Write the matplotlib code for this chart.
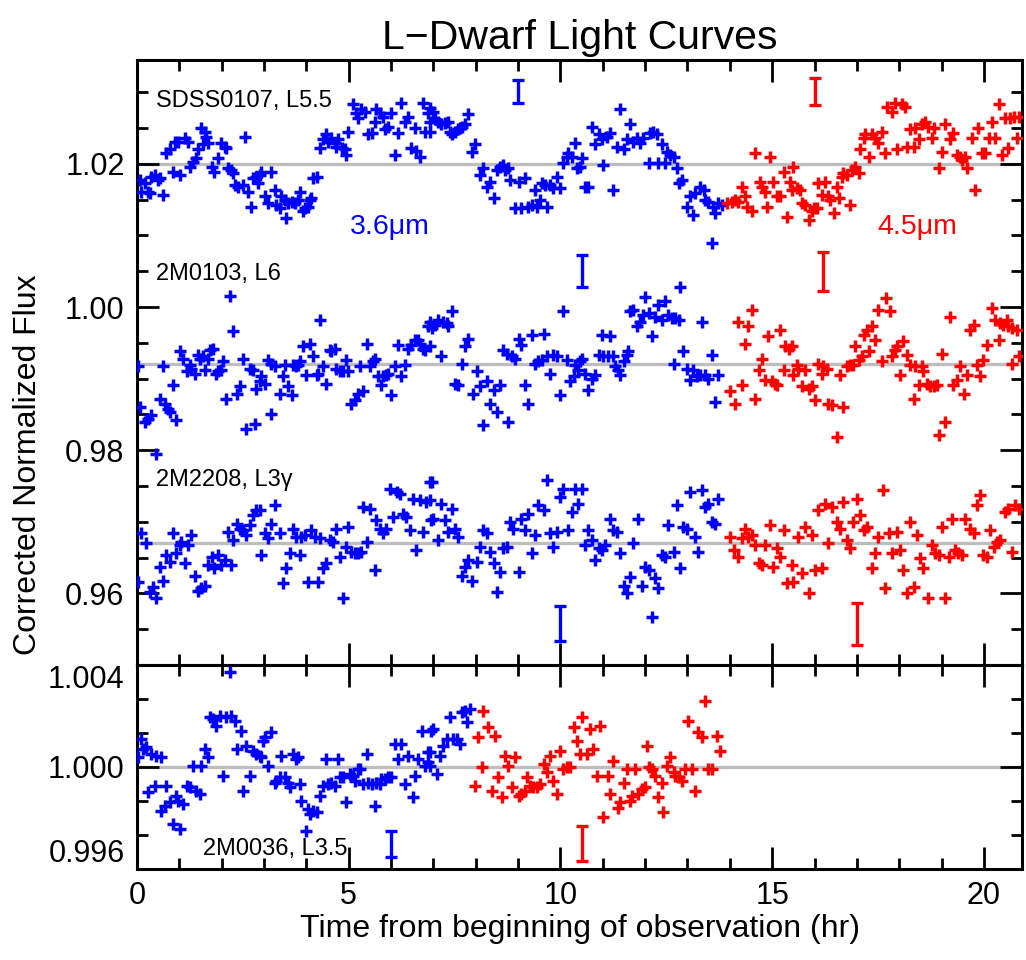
import matplotlib
matplotlib.use("Agg")
import matplotlib.pyplot as plt
from matplotlib.ticker import MultipleLocator, AutoMinorLocator

plt.rcParams["font.family"] = ["Liberation Sans", "DejaVu Sans"]

BLUE = "#0000FF"
RED = "#FF0000"
GREY = "#BEBEBE"

# ---- SDSS0107, L5.5 (baseline 1.020) ----
s1_b_t = [0.06, 0.18, 0.26, 0.34, 0.42, 0.50, 0.54, 0.10, 0.30, 0.61, 0.69, 0.77, 0.89, 0.97, 1.13, 1.20, 0.85, 1.01,
          1.24, 1.32, 1.40, 1.44, 1.52, 1.60, 1.64, 1.68, 1.56, 1.76, 1.83, 1.91, 1.99, 2.07, 2.11, 2.15, 2.23, 2.27,
          2.31, 2.39, 2.50, 2.54, 2.62, 2.70, 2.74, 2.82, 2.90, 2.94, 2.86, 3.02, 3.09, 3.17, 3.25, 3.29, 3.37, 3.41,
          3.49, 3.53, 3.57, 3.65, 3.72, 3.80, 3.84, 3.92, 3.96, 4.04, 4.08, 4.12, 4.16, 4.24, 4.31, 4.39, 4.47, 4.51,
          4.59, 4.67, 4.71, 4.75, 4.83, 4.91, 4.94, 4.98, 5.10, 5.18, 5.22, 5.30, 5.38, 5.46, 5.54, 5.61, 5.65, 5.73,
          5.81, 5.85, 5.93, 6.01, 6.09, 6.17, 6.24, 6.32, 6.40, 6.48, 6.56, 6.60, 6.68, 6.76, 6.80, 6.87, 6.91,
          6.92, 7.00, 7.04, 7.12, 7.19, 7.27, 7.35, 7.39, 7.43, 7.51, 7.59, 7.63, 7.67, 7.75, 7.82, 6.92, 7.90, 7.98,
          8.10, 8.18, 8.26, 8.34, 8.42, 8.49, 8.57, 8.65, 8.69, 8.77, 8.81, 8.93, 9.01, 9.08, 9.16, 9.24, 9.32, 9.40,
          9.44, 9.52, 9.56, 9.64, 9.68, 9.75, 9.83, 9.91, 9.99, 10.07, 10.15, 10.19, 10.27, 10.34, 10.38, 10.46,
          10.50, 10.58, 10.66, 10.74, 10.82, 10.90, 10.97, 11.01, 11.09, 11.17, 11.25, 11.33, 11.41, 11.49, 11.56,
          11.64, 11.72, 11.80, 11.88, 11.96, 12.08, 12.12, 12.19, 12.27, 12.31, 12.39, 12.47, 12.51, 12.59, 12.67,
          12.75, 12.79, 12.86, 12.98, 13.06, 13.14, 13.18, 13.30, 13.38, 13.42, 13.49, 13.57, 13.61, 13.65, 13.73,
          13.81]
s1_b_f = [1.0178, 1.0173, 1.0161, 1.0182, 1.0185, 1.0178, 1.0180, 1.0161, 1.0159, 1.0157, 1.0215, 1.0220, 1.0231,
          1.0231, 1.0236, 1.0231, 1.0189, 1.0185, 1.0196, 1.0203, 1.0208, 1.0220, 1.0250, 1.0245, 1.0238, 1.0229,
          1.0227, 1.0196, 1.0189, 1.0208, 1.0229, 1.0224, 1.0222, 1.0194, 1.0192, 1.0187, 1.0171, 1.0168, 1.0171,
          1.0238, 1.0161, 1.0140, 1.0180, 1.0182, 1.0185, 1.0189, 1.0173, 1.0155, 1.0145, 1.0189, 1.0164, 1.0143,
          1.0138, 1.0155, 1.0150, 1.0124, 1.0145, 1.0147, 1.0145, 1.0150, 1.0161, 1.0134, 1.0138, 1.0140, 1.0150,
          1.0152, 1.0180, 1.0182, 1.0222, 1.0234, 1.0241, 1.0231, 1.0236, 1.0229, 1.0224, 1.0234, 1.0222, 1.0220,
          1.0213, 1.0245, 1.0283, 1.0271, 1.0264, 1.0276, 1.0273, 1.0241, 1.0243, 1.0259, 1.0276, 1.0271, 1.0266,
          1.0248, 1.0252, 1.0271, 1.0213, 1.0243, 1.0285, 1.0259, 1.0266, 1.0222, 1.0250, 1.0218, 1.0210, 1.0285,
          1.0245, 1.0271, 1.0259,
          1.0278, 1.0273, 1.0262, 1.0259, 1.0255, 1.0257, 1.0259, 1.0245, 1.0241, 1.0245, 1.0248, 1.0250, 1.0252,
          1.0255, 1.0269, 1.0245, 1.0217, 1.0227, 1.0185, 1.0194, 1.0168, 1.0175, 1.0152, 1.0192, 1.0196, 1.0199,
          1.0192, 1.0194, 1.0178, 1.0138, 1.0175, 1.0138, 1.0180, 1.0140, 1.0143, 1.0164, 1.0140, 1.0150, 1.0173,
          1.0171, 1.0140, 1.0171, 1.0166, 1.0182, 1.0166, 1.0201, 1.0210, 1.0215, 1.0210, 1.0229, 1.0194, 1.0196,
          1.0208, 1.0168, 1.0168, 1.0252, 1.0227, 1.0241, 1.0234, 1.0199, 1.0238, 1.0243, 1.0164, 1.0224, 1.0276,
          1.0220, 1.0234, 1.0255, 1.0231, 1.0236, 1.0229, 1.0236, 1.0201, 1.0243, 1.0245, 1.0241, 1.0201, 1.0227,
          1.0201, 1.0217, 1.0213, 1.0210, 1.0194, 1.0173, 1.0178, 1.0140, 1.0155, 1.0129, 1.0159, 1.0168, 1.0164,
          1.0150, 1.0147, 1.0089, 1.0140, 1.0131, 1.0145, 1.0143]
s1_r_t = [13.93, 14.05, 14.13, 14.20, 14.28, 14.36, 14.40, 14.52, 14.60, 14.72, 14.76, 14.83, 14.87, 14.95, 15.03,
          15.11, 15.19, 15.27, 15.35, 15.42, 15.46, 15.50, 15.58, 15.66, 15.70, 15.78, 15.86, 15.94, 15.98, 16.05,
          16.09, 16.17, 16.25, 16.33, 16.37, 16.45, 16.53, 16.57, 16.65, 16.68, 16.76, 16.84, 16.88, 16.96, 17.04,
          17.08, 17.16, 17.20, 17.28, 17.35, 17.43, 17.51, 17.59, 17.67, 17.71, 17.83, 17.91, 17.94, 18.06, 18.14,
          18.18, 18.26, 18.34, 18.38, 18.46, 18.54, 18.61, 18.69, 18.77, 18.81, 18.93, 19.01, 19.09, 19.20, 19.28,
          19.36, 19.44, 19.48, 19.56, 19.60, 19.72, 19.80, 19.87, 19.95, 20.03, 20.11, 20.19, 20.27, 20.35, 20.43,
          20.50, 20.58, 20.62, 20.70, 20.78, 20.82]
s1_r_f = [1.0145, 1.0147, 1.0150, 1.0147, 1.0168, 1.0155, 1.0140, 1.0134, 1.0215, 1.0175, 1.0168, 1.0161, 1.0140,
          1.0210, 1.0175, 1.0155, 1.0155, 1.0189, 1.0126, 1.0175, 1.0164, 1.0196, 1.0166, 1.0164, 1.0145, 1.0143,
          1.0122, 1.0134, 1.0138, 1.0138, 1.0173, 1.0157, 1.0175, 1.0155, 1.0150, 1.0131, 1.0168, 1.0152, 1.0182,
          1.0187, 1.0185, 1.0143, 1.0192, 1.0196, 1.0187, 1.0220, 1.0236, 1.0241, 1.0210, 1.0241, 1.0236, 1.0229,
          1.0245, 1.0215, 1.0280, 1.0273, 1.0285, 1.0220, 1.0283, 1.0280, 1.0224, 1.0248, 1.0224, 1.0250, 1.0234,
          1.0255, 1.0259, 1.0252, 1.0236, 1.0250, 1.0194, 1.0217, 1.0255, 1.0234, 1.0243, 1.0213, 1.0210, 1.0206,
          1.0210, 1.0194, 1.0236, 1.0164, 1.0250, 1.0215, 1.0215, 1.0236, 1.0259, 1.0236, 1.0283, 1.0213, 1.0264,
          1.0222, 1.0264, 1.0266, 1.0236, 1.0266]

# ---- 2M0103, L6 (baseline 0.992) ----
s2_b_t = [0.02, 0.06, 0.18, 0.26, 0.34, 0.46, 0.54, 0.61, 0.65, 0.73, 0.77, 0.85, 0.93, 1.01, 1.09, 1.17, 1.24, 1.28,
          1.36, 1.44, 1.48, 1.56, 1.60, 1.68, 1.72, 1.80, 1.87, 1.91, 1.99, 2.03, 2.11, 2.19, 2.27, 2.35, 2.43, 2.50,
          2.58, 2.66, 2.74, 2.78, 2.82, 2.90, 2.94, 3.02, 3.09, 3.17, 3.17, 3.25, 3.37, 3.45, 3.49, 3.57, 3.65, 3.69,
          3.76, 3.80, 3.84, 3.92, 4.00, 4.08, 4.16, 4.24, 4.28, 4.31, 4.39, 4.47, 4.55, 4.59, 4.67, 4.71, 4.79, 4.87,
          4.94, 4.98, 5.06, 5.14, 5.22, 5.26, 5.34, 5.42, 5.50, 5.57, 5.61, 5.69, 5.77, 5.81, 5.89, 5.93, 6.01, 6.09,
          6.17, 6.24, 6.32, 6.40, 6.48, 6.56, 6.64, 6.68, 6.76, 6.80, 6.87, 6.91,
          6.92, 6.96, 7.04, 7.12, 7.23, 7.31, 7.35, 7.43, 7.19, 7.51, 7.59, 7.67, 7.75, 7.82, 7.94, 8.02, 8.10, 8.18,
          8.26, 8.34, 8.42, 8.49, 8.57, 8.65, 8.73, 8.77, 8.85, 8.93, 9.01, 9.08, 9.16, 9.24, 9.32, 9.40, 9.48, 9.56,
          9.60, 9.68, 9.75, 9.83, 9.91, 9.99, 10.07, 10.15, 10.23, 10.31, 10.34, 10.42, 10.46, 10.50, 10.58, 10.66,
          10.74, 10.82, 10.90, 10.97, 11.01, 11.13, 11.17, 11.25, 11.29, 11.37, 11.41, 11.49, 11.56, 11.60, 11.64,
          11.72, 11.80, 11.88, 11.96, 12.00, 12.08, 12.16, 12.23, 12.31, 12.39, 12.47, 12.55, 12.63, 12.71, 12.79,
          12.67, 12.83, 12.90, 12.98, 13.06, 13.14, 13.22, 13.30, 13.34, 13.42, 13.49, 13.57, 13.65, 13.73]
s2_b_f = [0.9918, 0.9861, 0.9840, 0.9844, 0.9849, 0.9795, 0.9872, 0.9918, 0.9865, 0.9858, 0.9854, 0.9891, 0.9842,
          0.9938, 0.9928, 0.9910, 0.9919, 0.9914, 0.9907, 0.9933, 0.9928, 0.9931, 0.9912, 0.9928, 0.9940, 0.9942,
          0.9907, 0.9910, 0.9912, 0.9924, 0.9872, 1.0015, 0.9966, 0.9879, 0.9889, 0.9928, 0.9830, 0.9914, 0.9912,
          0.9837, 0.9886, 0.9896, 0.9903, 0.9893, 0.9926, 0.9921, 0.9851, 0.9917, 0.9879, 0.9903, 0.9919, 0.9889,
          0.9877, 0.9919, 0.9917, 0.9919, 0.9924, 0.9945, 0.9905, 0.9949, 0.9931, 0.9905, 0.9907, 0.9982, 0.9917,
          0.9893, 0.9940, 0.9938, 0.9942, 0.9914, 0.9910, 0.9910, 0.9926, 0.9910, 0.9865, 0.9870, 0.9879, 0.9917,
          0.9882, 0.9949, 0.9917, 0.9924, 0.9928, 0.9903, 0.9891, 0.9903, 0.9905, 0.9907, 0.9877, 0.9917, 0.9947,
          0.9903, 0.9919, 0.9942, 0.9947, 0.9954, 0.9954, 0.9949, 0.9942, 0.9940, 0.9973, 0.9979,
          0.9945, 0.9970, 0.9975, 0.9982, 0.9979, 0.9977, 0.9973, 0.9994, 0.9931, 0.9893, 0.9891, 0.9921, 0.9945,
          0.9956, 0.9879, 0.9910, 0.9889, 0.9835, 0.9896, 0.9865, 0.9884, 0.9854, 0.9891, 0.9940, 0.9935, 0.9840,
          0.9931, 0.9928, 0.9956, 0.9947, 0.9891, 0.9865, 0.9961, 0.9921, 0.9924, 0.9926, 0.9963, 0.9931, 0.9907,
          0.9933, 0.9931, 0.9877, 0.9994, 0.9926, 0.9896, 0.9903, 0.9919, 0.9912, 0.9924, 0.9928, 0.9907, 0.9884,
          0.9900, 0.9905, 0.9933, 0.9961, 0.9931, 0.9931, 0.9959, 0.9931, 0.9917, 0.9912, 0.9905, 0.9924, 0.9933,
          0.9938, 0.9994, 0.9996, 0.9973, 0.9979, 0.9989, 1.0014, 0.9991, 0.9959, 0.9986, 1.0003, 0.9982, 1.0008,
          0.9989, 0.9984, 0.9984, 0.9982, 0.9921, 1.0028, 0.9938, 0.9914, 0.9898, 0.9912, 0.9903, 0.9905, 0.9979,
          0.9905, 0.9900, 0.9933, 0.9868, 0.9905]
s2_r_t = [14.01, 14.13, 14.20, 14.28, 14.36, 14.44, 14.52, 14.60, 14.68, 14.76, 14.83, 14.91, 14.99, 15.07, 15.11,
          15.19, 15.27, 15.31, 15.39, 15.46, 15.50, 15.58, 15.62, 15.70, 15.78, 15.86, 15.94, 16.02, 16.09, 16.17,
          16.21, 16.29, 16.33, 16.41, 16.53, 16.61, 16.68, 16.76, 16.84, 16.92, 16.96, 17.04, 17.12, 17.16, 17.24,
          17.28, 17.35, 17.43, 17.51, 17.59, 17.69, 17.79, 17.83, 17.91, 17.94, 18.02, 18.10, 18.18, 18.26, 18.34,
          18.38, 18.46, 18.54, 18.57, 18.65, 18.73, 18.81, 18.89, 18.93, 19.01, 19.09, 19.20, 19.28, 19.36, 19.44,
          19.52, 19.60, 19.68, 19.76, 19.83, 19.91, 19.99, 20.07, 20.19, 20.27, 20.35, 20.39, 20.46, 20.54, 20.58,
          20.66, 20.78, 20.66, 20.82]
s2_r_f = [0.9882, 0.9865, 0.9979, 0.9891, 0.9949, 0.9973, 0.9996, 0.9872, 0.9912, 0.9928, 0.9898, 0.9959, 0.9896,
          0.9893, 0.9891, 0.9968, 0.9912, 0.9945, 0.9942, 0.9945, 0.9905, 0.9919, 0.9914, 0.9889, 0.9912, 0.9886,
          0.9889, 0.9870, 0.9921, 0.9907, 0.9917, 0.9914, 0.9865, 0.9863, 0.9819, 0.9905, 0.9861, 0.9917, 0.9919,
          0.9919, 0.9945, 0.9926, 0.9931, 0.9961, 0.9968, 0.9938, 0.9973, 0.9954, 0.9996, 0.9924, 1.0012, 0.9994,
          0.9931, 0.9940, 0.9945, 0.9905, 0.9952, 0.9933, 0.9919, 0.9872, 0.9917, 0.9891, 0.9917, 0.9910, 0.9893,
          0.9889, 0.9889, 0.9891, 0.9821, 0.9935, 0.9840, 0.9986, 0.9891, 0.9898, 0.9917, 0.9879, 0.9905, 0.9968,
          0.9975, 0.9919, 0.9903, 0.9926, 0.9947, 0.9998, 0.9982, 0.9954, 0.9977, 0.9975, 0.9982, 0.9973, 0.9970,
          0.9968, 0.9921, 0.9931]

# ---- 2M2208, L3gamma (baseline 0.967) ----
s3_b_t = [0.10, 0.02, 0.22, 0.30, 0.38, 0.46, 0.54, 0.61, 0.69, 0.77, 0.85, 0.93, 1.01, 1.05, 1.13, 1.20, 1.28, 1.36,
          1.44, 1.52, 1.60, 1.68, 1.76, 1.83, 1.91, 1.99, 2.07, 2.15, 2.23, 2.27, 2.35, 2.43, 2.50, 2.58, 2.66, 2.74,
          2.82, 2.90, 2.94, 3.02, 3.09, 3.17, 3.25, 3.37, 3.45, 3.53, 3.61, 3.69, 3.76, 3.84, 3.88, 3.96, 4.04, 4.12,
          4.20, 4.28, 4.31, 4.39, 4.47, 4.55, 4.63, 4.71, 4.79, 4.87, 4.94, 4.98, 5.06, 5.14, 5.22, 5.30, 5.34, 5.42,
          5.50, 5.61, 5.65, 5.73, 5.81, 5.89, 5.97, 6.05, 6.13, 6.20, 6.28, 6.36, 6.44, 6.52, 6.60, 6.68, 6.76, 6.83,
          6.91, 6.95,
          6.96, 6.92, 7.00, 7.12, 7.19, 7.27, 7.35, 7.43, 7.51, 7.59, 7.67, 7.75, 7.82, 7.90, 8.02, 8.10, 8.18, 8.26,
          8.34, 8.42, 8.49, 8.57, 8.65, 8.73, 8.81, 8.89, 9.01, 9.08, 9.16, 9.24, 9.32, 9.40, 9.48, 9.60, 9.68, 9.75,
          9.83, 9.91, 9.99, 10.07, 10.19, 10.27, 10.34, 10.42, 10.50, 10.58, 10.66, 10.74, 10.82, 10.90, 10.97, 11.05,
          11.17, 11.25, 11.33, 11.41, 11.49, 11.56, 11.64, 11.72, 11.84, 11.92, 12.00, 12.08, 12.16, 12.23, 12.31,
          12.39, 12.47, 12.55, 12.67, 12.75, 12.83, 12.90, 12.98, 13.06, 13.18, 13.26, 13.34, 13.42, 13.49, 13.57,
          13.65, 13.73]
s3_b_f = [0.9684, 0.9616, 0.9670, 0.9602, 0.9609, 0.9593, 0.9637, 0.9618, 0.9653, 0.9644, 0.9684, 0.9656, 0.9667,
          0.9672, 0.9642, 0.9667, 0.9681, 0.9625, 0.9604, 0.9607, 0.9611, 0.9639, 0.9651, 0.9635, 0.9653, 0.9639,
          0.9646, 0.9686, 0.9639, 0.9674, 0.9697, 0.9690, 0.9688, 0.9681, 0.9695, 0.9709, 0.9716, 0.9716, 0.9653,
          0.9684, 0.9677, 0.9697, 0.9723, 0.9684, 0.9614, 0.9635, 0.9656, 0.9690, 0.9679, 0.9653, 0.9679, 0.9681,
          0.9616, 0.9688, 0.9679, 0.9616, 0.9677, 0.9635, 0.9642, 0.9674, 0.9672, 0.9690, 0.9651, 0.9593, 0.9665,
          0.9693, 0.9658, 0.9656, 0.9656, 0.9658, 0.9721, 0.9672, 0.9718, 0.9632, 0.9702, 0.9690, 0.9684, 0.9690,
          0.9746, 0.9707, 0.9742, 0.9739, 0.9711, 0.9707, 0.9688, 0.9732, 0.9660, 0.9730, 0.9686, 0.9728, 0.9756,
          0.9702,
          0.9756, 0.9730, 0.9704, 0.9674, 0.9725, 0.9702, 0.9686, 0.9718, 0.9690, 0.9679, 0.9625, 0.9637, 0.9646,
          0.9618, 0.9644, 0.9665, 0.9688, 0.9684, 0.9658, 0.9642, 0.9602, 0.9630, 0.9663, 0.9665, 0.9700, 0.9690,
          0.9630, 0.9704, 0.9688, 0.9711, 0.9656, 0.9681, 0.9723, 0.9716, 0.9759, 0.9684, 0.9665, 0.9686, 0.9735,
          0.9746, 0.9688, 0.9714, 0.9746, 0.9725, 0.9746, 0.9667, 0.9688, 0.9674, 0.9646, 0.9663, 0.9660, 0.9667,
          0.9704, 0.9688, 0.9686, 0.9656, 0.9611, 0.9600, 0.9623, 0.9670, 0.9704, 0.9611, 0.9637, 0.9632, 0.9567,
          0.9621, 0.9607, 0.9653, 0.9651, 0.9695, 0.9658, 0.9723, 0.9635, 0.9693, 0.9690, 0.9742, 0.9679, 0.9658,
          0.9744, 0.9721, 0.9725, 0.9700, 0.9697, 0.9732]
s3_r_t = [14.01, 14.09, 14.20, 14.28, 14.36, 14.44, 14.52, 14.60, 14.68, 14.76, 14.83, 14.95, 15.03, 15.11, 15.19,
          15.27, 15.35, 15.46, 15.50, 15.62, 15.70, 15.78, 15.86, 15.94, 16.02, 16.09, 16.17, 16.25, 16.33, 16.41,
          16.53, 16.61, 16.68, 16.76, 16.84, 16.92, 17.00, 17.08, 17.16, 17.24, 17.35, 17.43, 17.51, 17.61, 17.67,
          17.75, 17.83, 17.94, 18.02, 18.10, 18.18, 18.26, 18.34, 18.42, 18.50, 18.57, 18.69, 18.77, 18.85, 18.93,
          19.01, 19.09, 19.17, 19.24, 19.32, 19.40, 19.48, 19.56, 19.68, 19.76, 19.83, 19.91, 19.99, 20.07, 20.15,
          20.23, 20.31, 20.39, 20.50, 20.58, 20.66, 20.74, 20.82]
s3_r_f = [0.9679, 0.9660, 0.9651, 0.9677, 0.9690, 0.9679, 0.9681, 0.9667, 0.9642, 0.9639, 0.9667, 0.9695, 0.9637,
          0.9663, 0.9651, 0.9688, 0.9614, 0.9639, 0.9616, 0.9679, 0.9628, 0.9693, 0.9600, 0.9681, 0.9632, 0.9716,
          0.9635, 0.9725, 0.9670, 0.9721, 0.9700, 0.9690, 0.9728, 0.9674, 0.9663, 0.9700, 0.9732, 0.9709, 0.9688,
          0.9693, 0.9635, 0.9656, 0.9679, 0.9744, 0.9607, 0.9684, 0.9656, 0.9686, 0.9660, 0.9632, 0.9600, 0.9700,
          0.9609, 0.9681, 0.9649, 0.9635, 0.9593, 0.9667, 0.9656, 0.9653, 0.9693, 0.9593, 0.9651, 0.9704, 0.9660,
          0.9656, 0.9653, 0.9704, 0.9690, 0.9684, 0.9723, 0.9737, 0.9653, 0.9651, 0.9688, 0.9665, 0.9672, 0.9674,
          0.9714, 0.9718, 0.9658, 0.9723, 0.9718]

# ---- 2M0036, L3.5 (baseline 1.000) ----
s4_b_t = [0.02, 0.10, 0.14, 0.22, 0.26, 0.34, 0.42, 0.46, 0.57, 0.57, 0.65, 0.69, 0.77, 0.85, 0.93, 0.97, 1.01, 1.09,
          1.17, 1.24, 1.32, 1.40, 1.48, 1.52, 1.60, 1.68, 1.72, 1.80, 1.87, 1.95, 2.03, 2.11, 2.19, 2.23, 2.31, 2.35,
          2.46, 2.50, 2.58, 2.66, 2.74, 2.82, 2.90, 2.94, 2.98, 3.02, 3.09, 3.17, 3.25, 3.29, 3.37, 3.41, 3.49, 3.57,
          3.61, 3.69, 3.76, 3.80, 3.84, 3.88, 4.00, 4.04, 4.08, 4.16, 4.24, 4.31, 4.39, 4.47, 4.51, 4.59, 4.67, 4.75,
          4.79, 4.87, 4.94, 5.02, 5.10, 5.14, 5.22, 5.26, 5.34, 5.42, 5.46, 5.54, 5.61, 5.65, 5.73, 5.77, 5.85, 5.93,
          6.01, 6.09, 6.17, 6.24, 6.32, 6.40, 6.52, 6.56, 6.64, 6.72, 6.80, 6.87, 6.91, 6.95,
          6.88, 6.92, 7.00, 7.08, 7.16, 7.23, 7.31, 7.39, 7.47, 7.55, 7.63, 7.67, 7.75, 7.79, 7.86]
s4_b_f = [1.00038, 1.00109, 1.00071, 1.00077, 0.99901, 1.00051, 0.99927, 1.00044, 1.00038, 0.99829, 0.99848, 0.99927,
          0.99861, 0.99776, 0.99887, 0.99868, 0.99757, 0.99855, 0.99927, 0.99920, 1.00005, 0.99907, 0.99894, 1.00005,
          1.00071, 1.00038, 1.00195, 1.00188, 1.00162, 1.00201, 0.99966, 1.00195, 1.00371, 1.00201, 1.00181, 1.00071,
          1.00142, 0.99907, 1.00083, 0.99966, 1.00064, 1.00051, 1.00044, 1.00038, 1.00103, 1.00116, 1.00005, 1.00136,
          0.99939, 0.99946, 0.99959, 1.00044, 0.99959, 0.99939, 0.99920, 1.00051, 1.00031, 1.00038, 0.99933, 0.99868,
          0.99750, 0.99835, 0.99815, 0.99829, 0.99822, 0.99887, 0.99927, 1.00031, 0.99933, 0.99939, 0.99927, 1.00031,
          0.99959, 0.99959, 0.99861, 0.99972, 0.99966, 0.99946, 0.99992, 0.99992, 0.99933, 1.00051, 0.99939, 0.99933,
          0.99848, 0.99939, 0.99933, 0.99953, 0.99953, 0.99959, 0.99959, 1.00090, 1.00031, 1.00090, 0.99933, 1.00044,
          0.99881, 0.99966, 1.00031, 1.00142, 1.00005, 1.00018, 1.00057, 1.00142,
          1.00057, 1.00005, 1.00149, 0.99972, 1.00044, 1.00083, 1.00109, 1.00195, 1.00109, 1.00109, 1.00090, 1.00214,
          1.00221, 1.00175, 1.00227]
s4_r_t = [7.98, 8.06, 8.14, 8.18, 8.30, 8.38, 8.45, 8.53, 8.61, 8.69, 8.77, 8.85, 8.93, 9.01, 9.08, 9.16, 9.20, 9.28,
          9.36, 9.44, 9.52, 9.60, 9.68, 9.75, 9.83, 9.91, 9.99, 10.07, 10.15, 10.23, 10.31, 10.38, 10.46, 10.50, 10.62,
          10.70, 10.78, 10.86, 10.94, 11.01, 11.13, 11.17, 11.25, 11.37, 11.41, 11.49, 11.56, 11.64, 11.68, 11.76,
          11.84, 11.92, 12.00, 12.04, 12.08, 12.16, 12.23, 12.31, 12.39, 12.43, 12.51, 12.59, 12.67, 12.71, 12.79,
          12.86, 12.94, 13.02, 13.10, 13.18, 13.26, 13.34, 13.42, 13.49, 13.57, 13.69, 13.77]
s4_r_f = [0.99927, 1.00116, 0.99999, 1.00221, 1.00155, 0.99907, 1.00123, 0.99959, 0.99881, 1.00044, 1.00005, 0.99920,
          1.00038, 0.99887, 0.99894, 0.99907, 0.99959, 0.99927, 0.99920, 0.99920, 0.99933, 1.00011, 0.99979, 1.00044,
          0.99946, 0.99894, 1.00064, 0.99992, 0.99999, 0.99999, 1.00155, 1.00103, 1.00051, 1.00195, 1.00051, 1.00149,
          1.00071, 0.99966, 1.00162, 0.99802, 0.99966, 0.99894, 1.00025, 0.99841, 0.99861, 0.99939, 0.99992, 0.99868,
          0.99887, 0.99992, 0.99894, 0.99913, 0.99920, 1.00083, 0.99999, 0.99992, 0.99966, 0.99881, 0.99939, 0.99822,
          1.00005, 1.00038, 0.99979, 0.99966, 0.99959, 0.99946, 0.99992, 1.00181, 0.99992, 0.99907, 1.00136, 1.00116,
          1.00260, 0.99992, 0.99992, 1.00123, 1.00064]

baselines_top = [1.020, 0.992, 0.967]
names_top = ["SDSS0107, L5.5", "2M0103, L6", "2M2208, L3\u03b3"]
name_y_top = [1.0288, 1.0046, 0.9758]

# typical error bars: (time, flux, half-size) per series and channel
err_top_b = [(9.0, 1.0301, 0.0016), (10.5, 1.0050, 0.0022), (10.0, 0.9558, 0.0025)]
err_top_r = [(16.0, 1.0301, 0.0019), (16.2, 1.0050, 0.0027), (17.0, 0.9557, 0.0029)]
err_bot_b = (6.0, 0.99698, 0.00051)
err_bot_r = (10.5, 0.99700, 0.00069)

MS, MEW = 9, 2.5

fig = plt.figure(figsize=(10.26, 9.6), dpi=100)
W, H = 1026, 960
x0, x1 = 137, 1022
ax1 = fig.add_axes([x0 / W, 1 - 665 / H, (x1 - x0) / W, (665 - 60) / H])
ax2 = fig.add_axes([x0 / W, 1 - 869 / H, (x1 - x0) / W, (869 - 665) / H])

for ax in (ax1, ax2):
    ax.set_xlim(0, 20.9)
    ax.xaxis.set_major_locator(MultipleLocator(5))
    ax.xaxis.set_minor_locator(MultipleLocator(1))
    ax.tick_params(which="both", direction="in", top=True, right=True, width=2, labelsize=22, pad=9)
    ax.tick_params(which="major", length=16)
    ax.tick_params(which="minor", length=8)
    for sp in ax.spines.values():
        sp.set_linewidth(2.2)

# top panel
for b in baselines_top:
    ax1.axhline(b, color=GREY, lw=2.4, zorder=1)
for t, f in [(s1_b_t, s1_b_f), (s2_b_t, s2_b_f), (s3_b_t, s3_b_f)]:
    ax1.plot(t, f, "+", color=BLUE, ms=MS, mew=MEW, zorder=3)
for t, f in [(s1_r_t, s1_r_f), (s2_r_t, s2_r_f), (s3_r_t, s3_r_f)]:
    ax1.plot(t, f, "+", color=RED, ms=MS, mew=MEW, zorder=3)
for (tb, fb, eb), (tr, fr, er) in zip(err_top_b, err_top_r):
    ax1.errorbar(tb, fb, yerr=eb, color=BLUE, lw=2.4, capsize=4, capthick=2.4)
    ax1.errorbar(tr, fr, yerr=er, color=RED, lw=2.4, capsize=4, capthick=2.4)
for name, y in zip(names_top, name_y_top):
    ax1.text(0.45, y, name, fontsize=17, va="center", ha="left")
ax1.text(5.96, 1.0112, "3.6\u03bcm", color=BLUE, fontsize=20.5, ha="center", va="center")
ax1.text(18.42, 1.0112, "4.5\u03bcm", color=RED, fontsize=20.5, ha="center", va="center")
ax1.set_ylim(0.95, 1.0345)
ax1.yaxis.set_major_locator(MultipleLocator(0.02))
ax1.yaxis.set_minor_locator(MultipleLocator(0.005))
ax1.yaxis.set_major_formatter(plt.FormatStrFormatter("%.2f"))
ax1.tick_params(labelbottom=False)
ax1.set_title("L\u2212Dwarf Light Curves", fontsize=29.5, pad=8)

# bottom panel
ax2.axhline(1.0, color=GREY, lw=2.4, zorder=1)
ax2.plot(s4_b_t, s4_b_f, "+", color=BLUE, ms=MS, mew=MEW, zorder=3)
ax2.plot(s4_r_t, s4_r_f, "+", color=RED, ms=MS, mew=MEW, zorder=3)
ax2.errorbar(err_bot_b[0], err_bot_b[1], yerr=err_bot_b[2], color=BLUE, lw=2.4, capsize=4, capthick=2.4)
ax2.errorbar(err_bot_r[0], err_bot_r[1], yerr=err_bot_r[2], color=RED, lw=2.4, capsize=4, capthick=2.4)
ax2.text(1.56, 0.99679, "2M0036, L3.5", fontsize=17, va="center", ha="left")
ax2.set_ylim(0.996, 1.004)
ax2.set_yticks([0.996, 1.000, 1.004])
ax2.yaxis.set_minor_locator(AutoMinorLocator(3))
ax2.yaxis.set_major_formatter(plt.FormatStrFormatter("%.3f"))
ylabels = ax2.get_yticklabels()
ylabels[0].set_verticalalignment("bottom")
ylabels[-1].set_verticalalignment("top")
ax2.set_xlabel("Time from beginning of observation (hr)", fontsize=23, labelpad=2)

fig.text(28 / W, 1 - 465 / H, "Corrected Normalized Flux", rotation=90, fontsize=23,
         ha="center", va="center")

fig.savefig("out.png", dpi=100)
